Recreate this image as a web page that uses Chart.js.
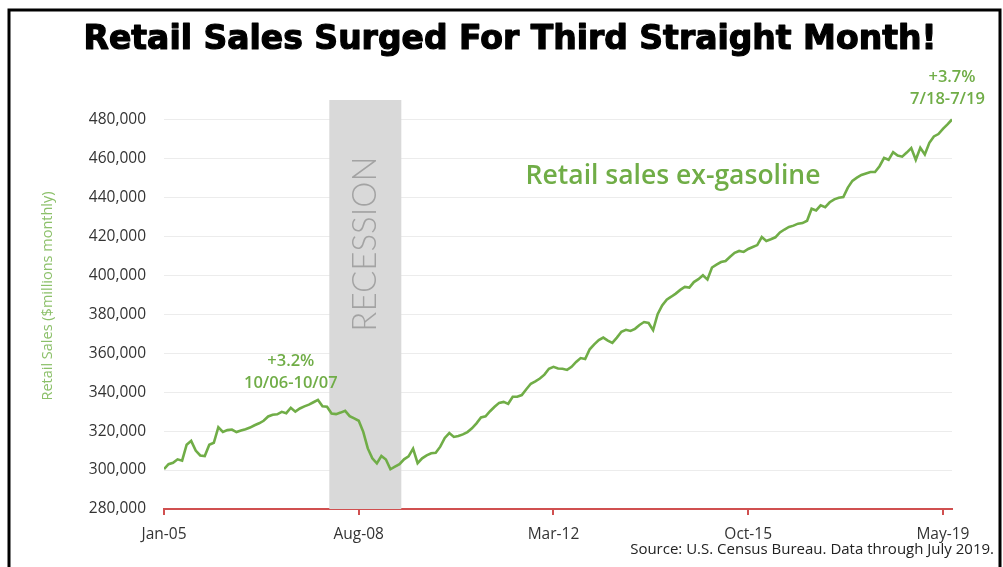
<!DOCTYPE html>
<html>
<head>
<meta charset="utf-8">
<script src="https://cdn.jsdelivr.net/npm/chart.js@4.4.1/dist/chart.umd.min.js"></script>
<style>
  html, body { margin: 0; padding: 0; background: #fff; }
  #wrap { width: 1003px; height: 567px; position: relative; }
</style>
</head>
<body>
<div id="wrap"><canvas id="c" width="1003" height="567"></canvas></div>
<script>
// Monthly retail sales ex-gasoline ($ millions), Jan-05 .. Jul-19
const salesValues = [
  300500, 303000, 303700, 305500, 304800, 313000, 315000, 310000, 307500, 307200,
  313000, 314000, 322000, 319600, 320500, 320800, 319500, 320300, 321000, 321800,
  323000, 324000, 325300, 327500, 328400, 328600, 329900, 329200, 332000, 330000,
  331600, 332700, 333600, 334800, 336000, 332800, 332500, 329000, 328700, 329500,
  330400, 327700, 326500, 325300, 319600, 311100, 306000, 303400, 307200, 305400,
  300400, 301700, 303000, 305500, 307000, 311000, 303500, 306000, 307500, 308600,
  308900, 312000, 316500, 319000, 317000, 317500, 318300, 319500, 321400, 324000,
  327000, 327600, 330200, 332500, 334500, 335000, 334000, 337600, 337600, 338500,
  341500, 344300, 345500, 347000, 349000, 352000, 353000, 352100, 352000, 351400,
  353000, 355500, 357500, 357000, 362000, 364500, 366700, 368000, 366500, 365300,
  368000, 371000, 372000, 371400, 372500, 374500, 376000, 375500, 371800, 380000,
  384500, 387500, 389000, 390600, 392500, 394000, 393700, 396500, 398000, 400000,
  397800, 404000, 405500, 406800, 407300, 409500, 411500, 412500, 412000, 413500,
  414500, 415500, 419600, 417600, 418500, 419500, 422000, 423500, 424800, 425500,
  426500, 426800, 428000, 434200, 433300, 435900, 435000, 437500, 439000, 439800,
  440200, 445000, 448500, 450100, 451500, 452300, 453000, 453000, 456000, 460300,
  459300, 463200, 461500, 460900, 463000, 465300, 459300, 465500, 462000, 468000,
  471300, 472500, 475200, 477500, 480000
];
const xTickIndex = [0, 43, 86, 129, 172];
const xTickLabels = ['Jan-05', 'Aug-08', 'Mar-12', 'Oct-15', 'May-19'];
const yTickValues = [280000, 300000, 320000, 340000, 360000, 380000, 400000, 420000, 440000, 460000, 480000];
const recessionSpan = [36.5, 52.4];   // month index (Jan-08 .. May-09)

const points = salesValues.map((v, i) => ({ x: i, y: v }));
const GREEN = '#70ad47';
const FONT = "'Open Sans', 'Noto Sans', sans-serif";

const decor = {
  id: 'decor',
  beforeDraw(chart) {
    const ctx = chart.ctx;
    ctx.save();
    ctx.fillStyle = '#fff';
    ctx.fillRect(0, 0, chart.width, chart.height);
    // frame
    ctx.strokeStyle = '#000';
    ctx.lineWidth = 3;
    ctx.beginPath();
    ctx.moveTo(9, chart.height + 5);
    ctx.lineTo(9, 10);
    ctx.lineTo(1000, 10);
    ctx.lineTo(1000, chart.height + 5);
    ctx.stroke();
    // title
    ctx.fillStyle = '#000';
    ctx.strokeStyle = '#000';
    ctx.lineWidth = 1.2;
    ctx.lineJoin = 'round';
    ctx.font = "bold 33px 'DejaVu Sans', sans-serif";
    ctx.textAlign = 'center';
    ctx.textBaseline = 'alphabetic';
    ctx.fillText('Retail Sales Surged For Third Straight Month!', 510, 49);
    ctx.strokeText('Retail Sales Surged For Third Straight Month!', 510, 49);
    // y axis title
    ctx.save();
    ctx.translate(48, 296);
    ctx.rotate(-Math.PI / 2);
    ctx.fillStyle = '#8cc06a';
    ctx.font = "14.5px " + FONT;
    ctx.textAlign = 'center';
    ctx.textBaseline = 'middle';
    ctx.fillText('Retail Sales ($millions monthly)', 0, 0);
    ctx.restore();
    // source
    ctx.fillStyle = '#222';
    ctx.font = "15px " + FONT;
    ctx.textAlign = 'right';
    ctx.textBaseline = 'middle';
    ctx.fillText('Source: U.S. Census Bureau. Data through July 2019.', 994, 550);
    ctx.restore();
  },
  beforeDatasetsDraw(chart) {
    const ctx = chart.ctx, x = chart.scales.x, y = chart.scales.y, a = chart.chartArea;
    const x0 = x.getPixelForValue(recessionSpan[0]);
    const x1 = x.getPixelForValue(recessionSpan[1]);
    ctx.save();
    ctx.fillStyle = '#d9d9d9';
    ctx.fillRect(x0, a.top, x1 - x0, a.bottom - a.top);
    ctx.translate((x0 + x1) / 2, y.getPixelForValue(416000));
    ctx.rotate(-Math.PI / 2);
    ctx.fillStyle = '#a3a3a3';
    ctx.font = "300 33px 'Lato', " + FONT;
    ctx.textAlign = 'center';
    ctx.textBaseline = 'middle';
    ctx.fillText('RECESSION', 0, 0);
    ctx.restore();
  },
  afterDatasetsDraw(chart) {
    const ctx = chart.ctx, x = chart.scales.x, y = chart.scales.y;
    ctx.save();
    ctx.fillStyle = GREEN;
    ctx.textAlign = 'center';
    ctx.textBaseline = 'middle';
    ctx.font = "600 16.5px " + FONT;
    ctx.fillText('+3.2%', x.getPixelForValue(28), y.getPixelForValue(355700));
    ctx.fillText('10/06-10/07', x.getPixelForValue(28), y.getPixelForValue(344500));
    ctx.fillText('+3.7%', x.getPixelForValue(174), y.getPixelForValue(501500));
    ctx.fillText('7/18-7/19', x.getPixelForValue(173), y.getPixelForValue(490400));
    ctx.font = "600 26.5px " + FONT;
    ctx.fillText('Retail sales ex-gasoline', x.getPixelForValue(112.4), y.getPixelForValue(450800));
    ctx.restore();
  }
};

new Chart(document.getElementById('c'), {
  type: 'line',
  data: {
    datasets: [{
      data: points,
      borderColor: GREEN,
      borderWidth: 2.6,
      pointRadius: 0,
      tension: 0,
      fill: false
    }]
  },
  options: {
    responsive: false,
    animation: false,
    events: [],
    layout: { padding: { left: 41, right: 51, top: 100, bottom: 0 } },
    plugins: { legend: { display: false }, tooltip: { enabled: false }, title: { display: false } },
    scales: {
      x: {
        type: 'linear',
        min: 0,
        max: 174,
        afterBuildTicks: (s) => { s.ticks = xTickIndex.map(v => ({ value: v })); },
        afterFit: (s) => { s.height = 58; },
        grid: { drawOnChartArea: false, drawTicks: true, tickLength: 6, color: '#d05050', lineWidth: 2 },
        border: { display: true, color: '#d05050', width: 2 },
        ticks: {
          autoSkip: false, maxRotation: 0, padding: 10,
          color: '#333', font: { family: FONT, size: 15.5 },
          callback: (v) => { const k = xTickIndex.indexOf(v); return k >= 0 ? xTickLabels[k] : ''; }
        }
      },
      y: {
        min: 280000,
        max: 490000,
        afterBuildTicks: (s) => { s.ticks = yTickValues.map(v => ({ value: v })); },
        afterFit: (s) => { s.width = 123; },
        grid: { color: '#ececec', lineWidth: 1, drawTicks: false },
        border: { display: false },
        ticks: {
          padding: 18, color: '#333', font: { family: FONT, size: 15.5 },
          callback: (v) => v.toLocaleString('en-US')
        }
      }
    }
  },
  plugins: [decor]
});
</script>
</body>
</html>
